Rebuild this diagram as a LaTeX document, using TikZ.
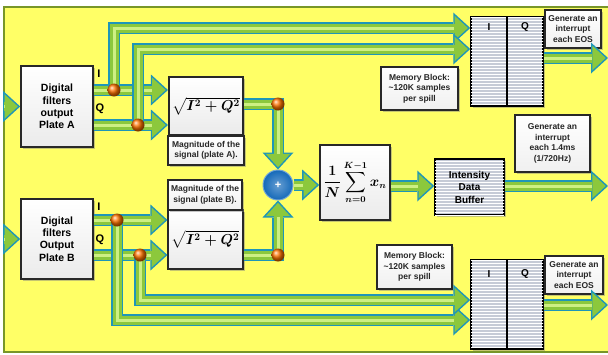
\documentclass[tikz,border=0pt]{standalone}
\usepackage{amsmath}
\usepackage{fontspec}
\setmainfont{Liberation Sans}
\usepackage{tikz}
\usetikzlibrary{arrows.meta,shadows,patterns}
\definecolor{YellowPanel}{RGB}{255,255,102}
\definecolor{OliveFrame}{RGB}{120,150,40}
\definecolor{PipeEdge}{RGB}{30,150,185}
\definecolor{PipeGreen}{RGB}{140,200,60}
\definecolor{PipeShine}{RGB}{205,240,130}
\definecolor{BoxEdge}{RGB}{40,40,40}
\definecolor{MemoryGray}{RGB}{198,203,214}
\definecolor{AdderBlue}{RGB}{20,105,185}
\newcommand{\drawpipe}[1]{%
  \draw[pipe edge] #1;
  \draw[pipe body] #1;
  \draw[pipe shine] #1;}
\newsavebox{\magbox}
\newsavebox{\avgbox}

\begin{document}
\sbox{\magbox}{\fontsize{14}{16}\selectfont\mathversion{bold}$\sqrt{I^{2}+Q^{2}}$}%
\sbox{\avgbox}{\fontsize{13.5}{16}\selectfont\mathversion{bold}$\displaystyle\frac{1}{N}\sum_{n=0}^{K-1}x_{n}$}%
\begin{tikzpicture}[x=1pt,y=-1pt,
  pipe edge/.style={draw=PipeEdge,line width=12pt,-{Triangle[length=17pt,width=31pt,line width=0pt]}},
  pipe body/.style={draw=PipeGreen,line width=9pt,shorten >=2.3pt,-{Triangle[length=13.4pt,width=24.5pt,line width=0pt]}},
  pipe shine/.style={draw=PipeShine,line width=3pt,shorten >=16pt},
  boxshadow/.style={drop shadow={shadow xshift=2pt,shadow yshift=-2pt,opacity=0.45}},
  filterbox/.style={draw=BoxEdge,line width=1.6pt,top color=white,bottom color=black!8,boxshadow,
    minimum width=72pt,minimum height=81pt,align=center,font=\bfseries\fontsize{10.5}{12.4}\selectfont},
  formulabox/.style={draw=BoxEdge,line width=1.6pt,top color=white,bottom color=black!8,boxshadow,
    minimum width=72pt},
  notebox/.style={draw=BoxEdge,line width=1.4pt,top color=white,bottom color=black!6,boxshadow,
    inner sep=1pt,align=center,text=black!85,font=\bfseries\fontsize{8.5}{10.5}\selectfont},
  memory/.style={draw=black,line width=1.5pt,fill=MemoryGray,boxshadow,
    postaction={pattern=horizontal lines,pattern color=white},
    align=center,font=\bfseries\fontsize{10}{12.5}\selectfont},
  adder/.style={circle,minimum size=30pt,inner sep=0pt,draw=AdderBlue!60!white,line width=1pt,
    inner color=AdderBlue!65!white,outer color=AdderBlue,
    text=white,font=\bfseries\fontsize{11}{11}\selectfont},
  joint/.style={circle,minimum size=13pt,inner sep=0pt,shading=ball,ball color=orange!90!red},
  iqtag/.style={font=\bfseries\fontsize{11}{11}\selectfont}]
  \useasboundingbox (0,0) rectangle (608,354);
  \fill[YellowPanel,draw=OliveFrame,line width=1.5pt] (4,7) rectangle (616,352);

  % plate A and plate B front ends
  \node[filterbox] (boxA) at (57,106.5) {Digital\\filters\\output\\Plate A};
  \node[filterbox,minimum height=80pt] (boxB) at (57,239) {Digital\\filters\\Output\\Plate B};
  \node[iqtag] (tagIA) at (99,74) {I};
  \node[iqtag] (tagQA) at (100,109) {Q};
  \node[iqtag] (tagIB) at (99,207) {I};
  \node[iqtag] (tagQB) at (100,240) {Q};

  % magnitude, adder, average, buffer
  \node[formulabox,minimum height=58pt] (sqrtA) at (206,106) {\usebox{\magbox}};
  \node[notebox,minimum width=76pt,minimum height=29pt] (magA) at (206,150.5) {Magnitude of the\\signal (plate A).};
  \node[formulabox,minimum height=59pt] (sqrtB) at (205.5,239.5) {\usebox{\magbox}};
  \node[notebox,minimum width=74pt,minimum height=30pt] (magB) at (205,195) {Magnitude of the\\signal (plate B).};
  \node[adder] (sum) at (278,185) {+};
  \node[formulabox,minimum width=70pt,minimum height=75pt] (avg) at (355,182.5) {\usebox{\avgbox}};
  \node[memory,minimum width=69pt,minimum height=56pt] (buffer) at (469.5,187) {Intensity\\Data\\Buffer};
  \node[notebox,minimum width=75pt,minimum height=57pt] (intr) at (552.5,143.5)
    {Generate an\\interrupt\\each 1.4ms\\(1/720Hz)};

  % memory blocks
  \node[memory,minimum width=72pt,minimum height=89pt] (memA) at (507,61.5) {};
  \node[memory,minimum width=72pt,minimum height=89pt] (memB) at (507,304.5) {};
  \draw[line width=1.5pt] (memA.north) -- (memA.south);
  \draw[line width=1.5pt] (memB.north) -- (memB.south);
  \node[iqtag,font=\bfseries\fontsize{10}{10}\selectfont] (memAI) at (489,27) {I};
  \node[iqtag,font=\bfseries\fontsize{10}{10}\selectfont] (memAQ) at (525,27) {Q};
  \node[iqtag,font=\bfseries\fontsize{10}{10}\selectfont] (memBI) at (489,274) {I};
  \node[iqtag,font=\bfseries\fontsize{10}{10}\selectfont] (memBQ) at (525,274) {Q};
  \node[notebox,minimum width=77pt,minimum height=43pt] (memlabA) at (419.5,88.5) {Memory Block:\\\textasciitilde120K samples\\per spill};
  \node[notebox,minimum width=75pt,minimum height=44pt] (memlabB) at (414.5,267) {Memory Block:\\\textasciitilde120K samples\\per spill};
  \node[notebox,minimum width=56pt,minimum height=38pt] (eosA) at (573,29) {Generate an\\interrupt\\each EOS};
  \node[notebox,minimum width=58pt,minimum height=38pt] (eosB) at (574,275) {Generate an\\interrupt\\each EOS};

  % branch points
  \coordinate (inA) at (4,106.5);
  \coordinate (inB) at (4,239);
  \coordinate (dotIA) at (114,90);
  \coordinate (dotQA) at (138,125);
  \coordinate (dotSA) at (278,104);
  \coordinate (dotIB) at (117,220);
  \coordinate (dotQB) at (140,255);
  \coordinate (dotSB) at (278,255);
  \coordinate (outA) at (608,58);
  \coordinate (outB) at (608,305);
  \coordinate (outC) at (608,186);

  % pipes
  \drawpipe{(inA) -- (inA -| boxA.west)}
  \drawpipe{(inB) -- (inB -| boxB.west)}
  \drawpipe{(boxA.east |- dotIA) -- (sqrtA.west |- dotIA)}
  \drawpipe{(boxA.east |- dotQA) -- (sqrtA.west |- dotQA)}
  \drawpipe{(boxB.east |- dotIB) -- (sqrtB.west |- dotIB)}
  \drawpipe{(boxB.east |- dotQB) -- (sqrtB.west |- dotQB)}
  \drawpipe{(dotIA) |- (memA.west |- 0,28)}
  \drawpipe{(dotQA) |- (memA.west |- 0,49)}
  \drawpipe{(dotIB) |- (memB.west |- 0,320)}
  \drawpipe{(dotQB) |- (memB.west |- 0,300)}
  \drawpipe{(sqrtA.east |- dotSA) -| (sum.north)}
  \drawpipe{(sqrtB.east |- dotSB) -| (sum.south)}
  \drawpipe{(sum.east) -- (avg.west |- sum.east)}
  \drawpipe{(avg.east |- outC) -- (buffer.west |- outC)}
  \drawpipe{(buffer.east |- outC) -- (outC)}
  \drawpipe{(memA.east |- outA) -- (outA)}
  \drawpipe{(memB.east |- outB) -- (outB)}

  \foreach \d in {IA,QA,SA,IB,QB,SB}
    \node[joint] (ball\d) at (dot\d) {};
\end{tikzpicture}
\end{document}
